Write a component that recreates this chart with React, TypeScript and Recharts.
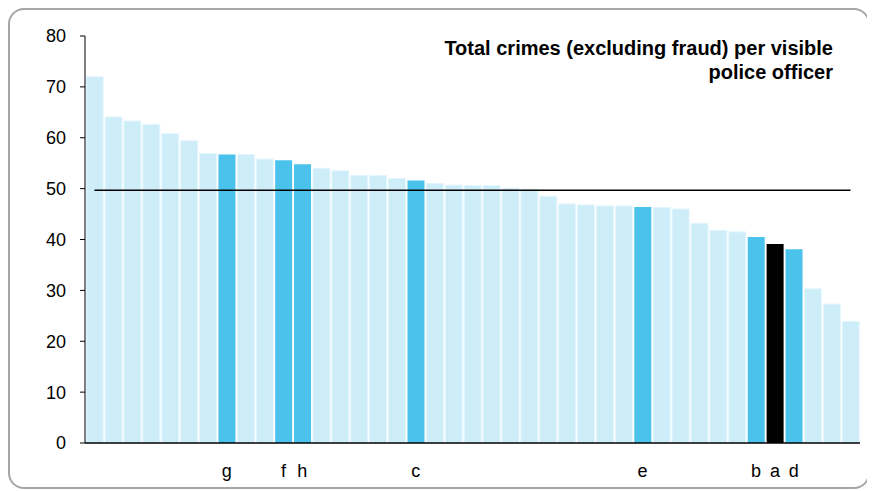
import React from 'react';
import { BarChart, Bar, XAxis, YAxis, Cell, ReferenceLine } from 'recharts';

// crimes per visible officer, one bar per force, sorted high to low
const values = [
  72.0, 64.1, 63.3, 62.6, 60.8, 59.4, 56.9, 56.7, 56.7, 55.8,
  55.6, 54.8, 54.0, 53.5, 52.6, 52.6, 52.0, 51.6, 51.0, 50.7,
  50.6, 50.6, 50.1, 49.9, 48.5, 47.0, 46.8, 46.6, 46.6, 46.4,
  46.3, 46.0, 43.2, 41.8, 41.5, 40.5, 39.1, 38.1, 30.3, 27.3,
  23.9,
];

// letter under the highlighted forces, blank for the rest
const labels = [
  '', '', '', '', '', '', '', 'g', '', '',
  'f', 'h', '', '', '', '', '', 'c', '', '',
  '', '', '', '', '', '', '', '', '', 'e',
  '', '', '', '', '', 'b', 'a', 'd', '', '',
  '',
];

const average = 49.7;
const yTicks = [0, 10, 20, 30, 40, 50, 60, 70, 80];
const title = ['Total crimes (excluding fraud) per visible', 'police officer'];

const LIGHT = '#cdedf9';
const HIGHLIGHT = '#4ac2eb';
const FONT = '"Liberation Sans", Arial, sans-serif';

const data = values.map((v, i) => ({ id: i, value: v, label: labels[i] }));

const barColor = (label: string) => {
  if (label === 'a') return '#000000';
  if (label) return HIGHLIGHT;
  return LIGHT;
};

export default function App() {
  return (
    <div
      style={{
        position: 'relative',
        width: 862,
        height: 481,
        boxSizing: 'border-box',
        border: '2px solid #a6a6a6',
        borderRadius: 16,
        fontFamily: FONT,
      }}
    >
      <BarChart
        width={858}
        height={477}
        data={data}
        margin={{ top: 26, right: 8, left: 0, bottom: 0 }}
        barCategoryGap="6%"
      >
        <XAxis
          dataKey="id"
          height={44}
          tickFormatter={(i: number) => labels[i]}
          interval={0}
          axisLine={{ stroke: '#000', strokeWidth: 1.5 }}
          tickLine={false}
          tickSize={0}
          tickMargin={21}
          tick={{ fontSize: 18, fill: '#000', fontFamily: FONT }}
        />
        <YAxis
          width={75}
          domain={[0, 80]}
          ticks={yTicks}
          interval={0}
          axisLine={{ stroke: '#000', strokeWidth: 1 }}
          tickLine={{ stroke: '#000' }}
          tickSize={5}
          tickMargin={14}
          tick={{ fontSize: 18, fill: '#000', fontFamily: FONT }}
        />
        <Bar dataKey="value" isAnimationActive={false}>
          {data.map((d) => (
            <Cell
              key={d.id}
              fill={barColor(d.label)}
              stroke={d.label ? 'none' : '#e4f6fd'}
              strokeWidth={1}
            />
          ))}
        </Bar>
        <ReferenceLine
          segment={[
            { x: 0, y: average },
            { x: values.length - 1, y: average },
          ]}
          stroke="#000"
          strokeWidth={1.5}
        />
      </BarChart>
      <div
        style={{
          position: 'absolute',
          top: 26,
          right: 35,
          textAlign: 'right',
          fontWeight: 'bold',
          fontSize: 20,
          lineHeight: '24px',
          color: '#000',
          whiteSpace: 'nowrap',
        }}
      >
        {title.map((t) => (
          <div key={t}>{t}</div>
        ))}
      </div>
    </div>
  );
}
